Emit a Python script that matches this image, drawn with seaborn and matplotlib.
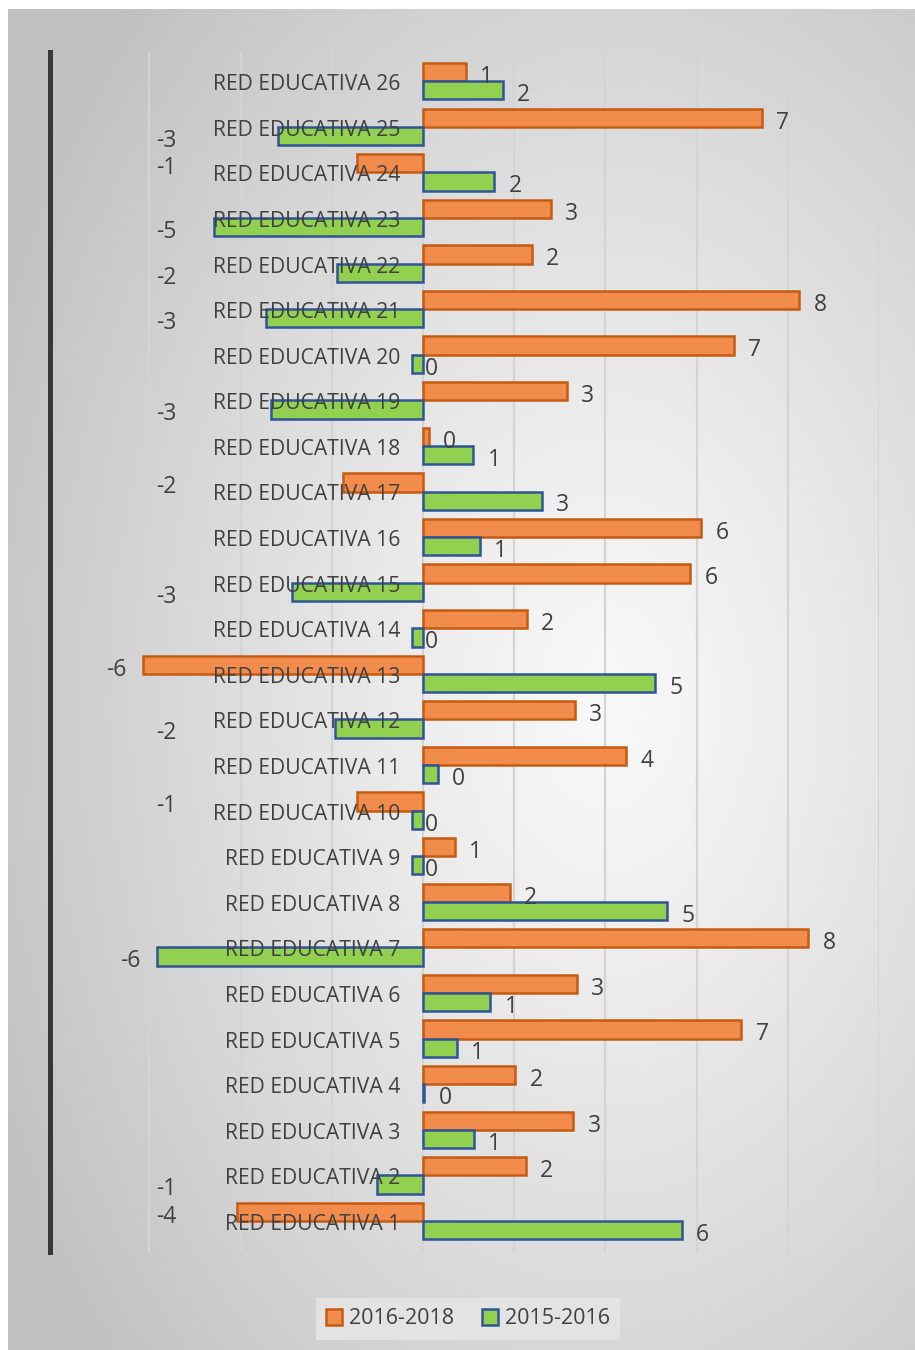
import numpy as np
import pandas as pd
import matplotlib
matplotlib.use("Agg")
import matplotlib.pyplot as plt
import seaborn as sns
from matplotlib.patches import Patch

# ----- data (top to bottom as in the chart) --------------------------------
redes = ["RED EDUCATIVA %d" % n for n in range(26, 0, -1)]
periodos = ["2016-2018", "2015-2016"]

val_2016_2018 = [0.94, 7.43, -1.45, 2.81, 2.39, 8.25, 6.82, 3.16, 0.13, -1.75,
                 6.10, 5.86, 2.28, -6.14, 3.33, 4.45, -1.45, 0.70, 1.91, 8.45,
                 3.38, 6.98, 2.02, 3.30, 2.26, -4.07]
val_2015_2016 = [1.75, -3.18, 1.56, -4.58, -1.89, -3.44, -0.24, -3.33, 1.10, 2.61,
                 1.25, -2.87, -0.24, 5.09, -1.93, 0.33, -0.24, -0.24, 5.35, -5.83,
                 1.48, 0.74, 0.03, 1.11, -1.00, 5.67]

colores = {"2016-2018": "#f28c4c", "2015-2016": "#92d050"}
bordes = {"2016-2018": "#c55a11", "2015-2016": "#2f5597"}

df = pd.DataFrame({
    "red": redes * 2,
    "periodo": [periodos[0]] * len(redes) + [periodos[1]] * len(redes),
    "valor": val_2016_2018 + val_2015_2016,
})

sns.set_style("white")
plt.rcParams["font.family"] = ["Open Sans", "DejaVu Sans"]
txt = "#404040"

fig = plt.figure(figsize=(9.15, 13.5), dpi=100)
fig.patch.set_facecolor("white")

# gray radial background of the chart area
bg = fig.add_axes([8 / 915, 0, 907 / 915, 1341 / 1350], zorder=-10)
yy, xx = np.mgrid[0:1:300j, 0:1:200j]
r = np.sqrt(((xx - 0.66) / 0.75) ** 2 + ((yy - 0.52) / 0.75) ** 2)
r = np.clip(r, 0, 1)
shade = 0.975 - 0.22 * r ** 1.2
bg.imshow(np.dstack([shade] * 3), aspect="auto", extent=[0, 1, 0, 1])
bg.set_axis_off()

ax = fig.add_axes([50 / 915, 1 - 1252 / 1350, 829 / 915, 1200 / 1350])
ax.patch.set_alpha(0)

sns.barplot(data=df, x="valor", y="red", hue="periodo", order=redes,
            hue_order=periodos, palette=colores, orient="h", width=0.8,
            saturation=1, legend=False, ax=ax, zorder=3)

for cont, per in zip(ax.containers, periodos):
    for bar in cont:
        bar.set_edgecolor(bordes[per])
        bar.set_linewidth(1.8)

ax.set_xlim(-8.18, 10)
ax.set_ylim(25.68, -0.64)
ax.set_xticks(np.arange(-6, 11, 2))
ax.set_xticklabels([])
ax.set_yticks([])
ax.set_xlabel("")
ax.set_ylabel("")
ax.grid(axis="x", color="#d4d4d4", linewidth=1.6, zorder=0)
ax.set_axisbelow(True)
for s in ["top", "right", "bottom"]:
    ax.spines[s].set_visible(False)
ax.spines["left"].set_color("#383838")
ax.spines["left"].set_linewidth(3.6)

# category names next to the zero line
for i, name in enumerate(redes):
    ax.annotate(name, xy=(0, i), xytext=(-16.5, -2.5), textcoords="offset points",
                ha="right", va="center", fontsize=15.2, color=txt, zorder=6)

# data labels
for cont, vals in zip(ax.containers, [val_2016_2018, val_2015_2016]):
    for bar, v in zip(cont, vals):
        yc = bar.get_y() + bar.get_height() / 2
        lab = "%d" % round(v)
        if v >= 0:
            x, dx = v, 15
        elif round(v) == 0:
            x, dx = 0, 6
        else:
            x, dx = min(v, -5.05), -19
        ax.annotate(lab, xy=(x, yc), xytext=(dx, -3.5), textcoords="offset points",
                    ha="center", va="center", fontsize=16.5, color=txt, zorder=6)

handles = [Patch(facecolor=colores[p], edgecolor=bordes[p], linewidth=1.8) for p in periodos]
leg = fig.legend(handles, periodos, loc="center", ncol=2,
                 bbox_to_anchor=(468 / 915, 1 - 1319 / 1350), fontsize=15.5,
                 frameon=True, fancybox=False, handlelength=0.75, handleheight=0.75,
                 handletextpad=0.3, columnspacing=1.3, borderpad=0.5,
                 borderaxespad=0, labelcolor=txt)
leg.get_frame().set_facecolor("#e3e3e3")
leg.get_frame().set_edgecolor("none")
leg.get_frame().set_alpha(1)

fig.savefig("out.png", dpi=100)
